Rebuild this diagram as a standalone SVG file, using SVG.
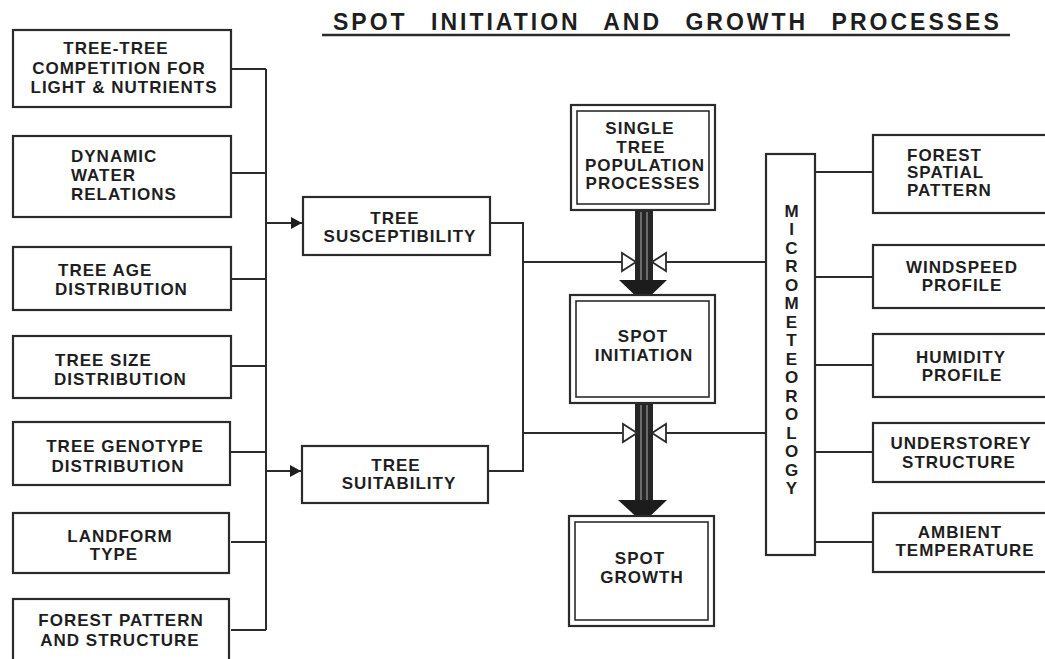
<svg xmlns="http://www.w3.org/2000/svg" width="1045" height="659" viewBox="0 0 1045 659">
<defs>
<style>
.bx{fill:#fff;stroke:#2b2b2b;stroke-width:2.2}
.bi{fill:none;stroke:#2b2b2b;stroke-width:1.6}
.ln{fill:none;stroke:#2b2b2b;stroke-width:2}
.t{font-family:"Liberation Sans",Arial,sans-serif;font-weight:bold;font-size:17px;letter-spacing:1px;fill:#1e1e1e}
.c{text-anchor:middle}
.ttl{font-family:"Liberation Sans",Arial,sans-serif;font-weight:bold;font-size:23px;letter-spacing:3px;word-spacing:14px;fill:#1e1e1e}
.valve{fill:#fff;stroke:#2b2b2b;stroke-width:1.8}
.shaft{fill:#262626}
.stripe{stroke:#8a8a8a;stroke-width:1.4}
.head{fill:#1c1c1c}
</style>
<marker id="ah" markerWidth="12" markerHeight="12" refX="11" refY="6" orient="auto" markerUnits="userSpaceOnUse">
<path d="M0,0 L11,6 L0,12 Z" fill="#1e1e1e"/>
</marker>
</defs>
<rect width="1045" height="659" fill="#fff"/>

<g id="title">
<text class="ttl" x="333" y="30">SPOT INITIATION AND GROWTH PROCESSES</text>
<line x1="322" y1="35" x2="1010" y2="35" stroke="#2b2b2b" stroke-width="2.5"/>
</g>

<g id="connectors">
<path class="ln" d="M231,69 H266 M231,173 H266 M231,279 H266 M231,366 H266 M231,452 H266 M231,542 H266 M231,630 H266 M266,69 V630"/>
<path class="ln" d="M266,223 H302" marker-end="url(#ah)"/>
<path class="ln" d="M266,471 H301" marker-end="url(#ah)"/>
<path class="ln" d="M490,223 H523 V471 H488 M523,262 H622 M523,433 H622"/>
<path class="ln" d="M665,262 H766 M665,433 H766"/>
<path class="ln" d="M815,172 H873 M815,277 H873 M815,365 H873 M815,452 H873 M815,542 H873"/>
<g id="flow1">
<rect class="shaft" x="635" y="210" width="18" height="72"/>
<line class="stripe" x1="641" y1="212" x2="641" y2="280"/>
<line class="stripe" x1="647" y1="212" x2="647" y2="280"/>
<polygon class="head" points="619,280 667,280 643,303"/>
<polygon class="valve" points="622,253 622,271 636,262"/>
<polygon class="valve" points="666,253 666,271 652,262"/>
</g>
<g id="flow2">
<rect class="shaft" x="635" y="403" width="18" height="99"/>
<line class="stripe" x1="641" y1="405" x2="641" y2="500"/>
<line class="stripe" x1="647" y1="405" x2="647" y2="500"/>
<polygon class="head" points="618,500 667,500 643,523"/>
<polygon class="valve" points="623,424 623,442 637,433"/>
<polygon class="valve" points="666,424 666,442 652,433"/>
</g>
</g>

<g id="n-competition">
<rect class="bx" x="13" y="30" width="218" height="77"/>
<text class="t c" x="116" y="54">TREE-TREE</text>
<text class="t c" x="119" y="74">COMPETITION FOR</text>
<text class="t c" x="124" y="93">LIGHT &amp; NUTRIENTS</text>
</g>
<g id="n-water">
<rect class="bx" x="13" y="136" width="218" height="81"/>
<text class="t" x="71" y="162">DYNAMIC</text>
<text class="t" x="71" y="181">WATER</text>
<text class="t" x="71" y="200">RELATIONS</text>
</g>
<g id="n-age">
<rect class="bx" x="13" y="247" width="218" height="63"/>
<text class="t" x="58" y="276">TREE AGE</text>
<text class="t" x="55" y="295">DISTRIBUTION</text>
</g>
<g id="n-size">
<rect class="bx" x="13" y="336" width="218" height="62"/>
<text class="t" x="55" y="366">TREE SIZE</text>
<text class="t" x="54" y="385">DISTRIBUTION</text>
</g>
<g id="n-genotype">
<rect class="bx" x="13" y="422" width="217" height="63"/>
<text class="t c" x="125" y="452">TREE GENOTYPE</text>
<text class="t c" x="118" y="472">DISTRIBUTION</text>
</g>
<g id="n-landform">
<rect class="bx" x="13" y="513" width="216" height="60"/>
<text class="t c" x="120" y="542">LANDFORM</text>
<text class="t c" x="114" y="560">TYPE</text>
</g>
<g id="n-forestpattern">
<rect class="bx" x="13" y="599" width="216" height="70"/>
<text class="t c" x="121" y="626">FOREST PATTERN</text>
<text class="t c" x="120" y="646">AND STRUCTURE</text>
</g>

<g id="n-susceptibility">
<rect class="bx" x="303" y="197" width="187" height="58"/>
<text class="t c" x="395" y="224">TREE</text>
<text class="t c" x="400" y="242">SUSCEPTIBILITY</text>
</g>
<g id="n-suitability">
<rect class="bx" x="302" y="446" width="186" height="57"/>
<text class="t c" x="396" y="471">TREE</text>
<text class="t c" x="399" y="489">SUITABILITY</text>
</g>

<g id="n-single">
<rect class="bx" x="571" y="105" width="144" height="105"/>
<rect class="bi" x="577" y="111" width="132" height="93"/>
<text class="t c" x="640" y="134">SINGLE</text>
<text class="t c" x="641" y="153">TREE</text>
<text class="t c" x="645" y="171">POPULATION</text>
<text class="t c" x="643" y="189">PROCESSES</text>
</g>
<g id="n-initiation">
<rect class="bx" x="570" y="295" width="145" height="108"/>
<rect class="bi" x="576" y="301" width="133" height="96"/>
<text class="t c" x="643" y="342">SPOT</text>
<text class="t c" x="644" y="361">INITIATION</text>
</g>
<g id="n-growth">
<rect class="bx" x="569" y="516" width="145" height="110"/>
<rect class="bi" x="575" y="522" width="133" height="98"/>
<text class="t c" x="640" y="564">SPOT</text>
<text class="t c" x="642" y="583">GROWTH</text>
</g>

<g id="n-micro">
<rect class="bx" x="766" y="154" width="49" height="401"/>
<text class="t c" x="792" y="217">M</text>
<text class="t c" x="792" y="235">I</text>
<text class="t c" x="792" y="254">C</text>
<text class="t c" x="792" y="272">R</text>
<text class="t c" x="792" y="291">O</text>
<text class="t c" x="792" y="309">M</text>
<text class="t c" x="792" y="328">E</text>
<text class="t c" x="792" y="346">T</text>
<text class="t c" x="792" y="365">E</text>
<text class="t c" x="792" y="383">O</text>
<text class="t c" x="792" y="402">R</text>
<text class="t c" x="792" y="420">O</text>
<text class="t c" x="792" y="439">L</text>
<text class="t c" x="792" y="457">O</text>
<text class="t c" x="792" y="476">G</text>
<text class="t c" x="792" y="494">Y</text>
</g>

<g id="n-spatial">
<rect class="bx" x="873" y="135" width="190" height="78"/>
<text class="t" x="907" y="161">FOREST</text>
<text class="t" x="907" y="178">SPATIAL</text>
<text class="t" x="907" y="196">PATTERN</text>
</g>
<g id="n-windspeed">
<rect class="bx" x="873" y="245" width="190" height="63"/>
<text class="t c" x="962" y="273">WINDSPEED</text>
<text class="t c" x="962" y="291">PROFILE</text>
</g>
<g id="n-humidity">
<rect class="bx" x="873" y="334" width="190" height="63"/>
<text class="t c" x="961" y="363">HUMIDITY</text>
<text class="t c" x="962" y="381">PROFILE</text>
</g>
<g id="n-understorey">
<rect class="bx" x="873" y="423" width="190" height="59"/>
<text class="t c" x="961" y="449">UNDERSTOREY</text>
<text class="t c" x="959" y="468">STRUCTURE</text>
</g>
<g id="n-temperature">
<rect class="bx" x="873" y="513" width="190" height="59"/>
<text class="t c" x="960" y="538">AMBIENT</text>
<text class="t c" x="965" y="556">TEMPERATURE</text>
</g>
</svg>
